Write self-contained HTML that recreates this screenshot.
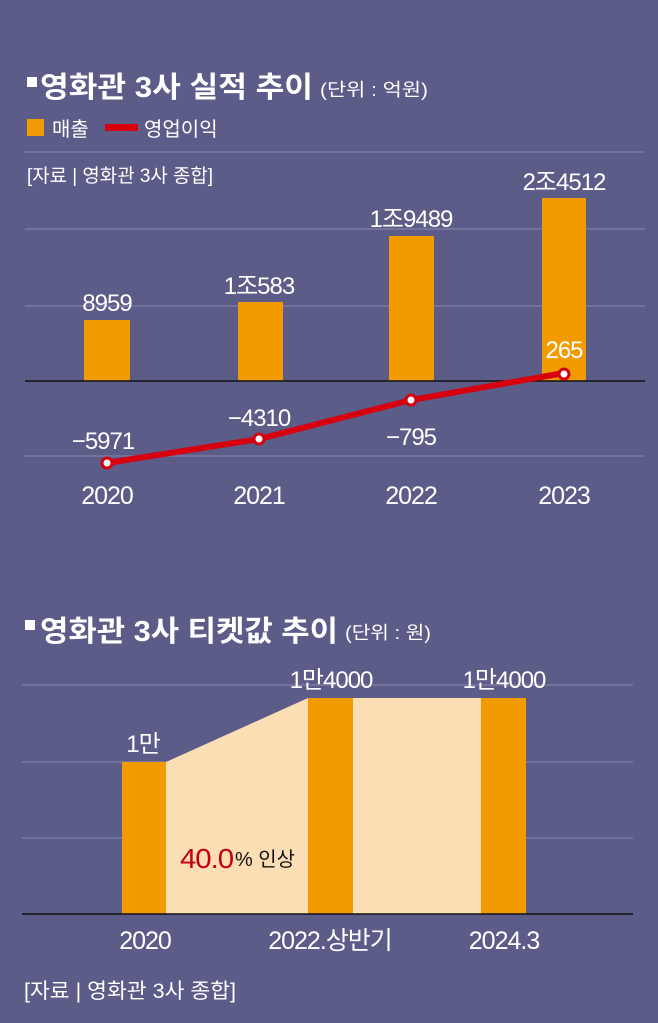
<!DOCTYPE html>
<html><head><meta charset="utf-8"><style>
body{margin:0;background:#5c5c88}
svg{display:block}
text{font-family:"Liberation Sans","Noto Sans CJK KR",sans-serif;fill:#fff}
</style></head><body>
<svg width="658" height="1023" viewBox="0 0 658 1023">
<rect width="658" height="1023" fill="#5c5c88"/>
<!-- Chart 1 -->
<rect x="27" y="77" width="10" height="10" fill="#fff"/>
<text x="40" y="97" font-size="29" font-weight="bold" textLength="273" lengthAdjust="spacingAndGlyphs">영화관 3사 실적 추이</text>
<text x="320" y="96" font-size="18" textLength="108" lengthAdjust="spacingAndGlyphs">(단위 : 억원)</text>
<rect x="27" y="119" width="17" height="17" fill="#f29b00"/>
<text x="52" y="136" font-size="20">매출</text>
<rect x="105" y="124" width="33" height="7" fill="#d7000f"/>
<text x="144" y="136" font-size="20">영업이익</text>
<g stroke="#7a7aa4" stroke-width="1.5">
<line x1="25" y1="152" x2="645" y2="152"/><line x1="25" y1="229" x2="645" y2="229"/>
<line x1="25" y1="306" x2="645" y2="306"/><line x1="25" y1="456" x2="645" y2="456"/>
</g>
<text x="27" y="182" font-size="19" textLength="186" lengthAdjust="spacingAndGlyphs">[자료 | 영화관 3사 종합]</text>
<g fill="#f29b00">
<rect x="84" y="320" width="46" height="61"/><rect x="238" y="302" width="45" height="79"/>
<rect x="389" y="236" width="45" height="145"/><rect x="542" y="198" width="44" height="183"/>
</g>
<line x1="25" y1="381" x2="645" y2="381" stroke="#111" stroke-width="1.5"/>
<polyline points="107,463 259,439 411,400 564,373" fill="none" stroke="#d7000f" stroke-width="6"/>
<g fill="#fff" stroke="#d7000f" stroke-width="3">
<circle cx="107" cy="463" r="5"/><circle cx="259" cy="439" r="5"/><circle cx="411" cy="400" r="5"/><circle cx="564" cy="374" r="5"/>
</g>
<g font-size="24" text-anchor="middle" letter-spacing="-1">
<text x="107" y="311">8959</text><text x="259" y="294">1조583</text>
<text x="411" y="227">1조9489</text><text x="564" y="190">2조4512</text>
<text x="564" y="358" fill="#ffe8b0">265</text>
<text x="103" y="449">−5971</text><text x="259" y="426">−4310</text><text x="411" y="445">−795</text>
</g>
<g font-size="25" text-anchor="middle" letter-spacing="-1">
<text x="107" y="504">2020</text><text x="259" y="504">2021</text><text x="411" y="504">2022</text><text x="564" y="504">2023</text>
</g>
<!-- Chart 2 -->
<rect x="25" y="620" width="10" height="10" fill="#fff"/>
<text x="40" y="641" font-size="29" font-weight="bold" textLength="298" lengthAdjust="spacingAndGlyphs">영화관 3사 티켓값 추이</text>
<text x="345" y="639" font-size="18" textLength="86" lengthAdjust="spacingAndGlyphs">(단위 : 원)</text>
<g stroke="#7a7aa4" stroke-width="1.5">
<line x1="22" y1="685" x2="633" y2="685"/><line x1="22" y1="762" x2="633" y2="762"/><line x1="22" y1="838" x2="633" y2="838"/>
</g>
<polygon points="166,762 308,698 481,698 481,914 166,914" fill="#fcdeb5"/>
<g fill="#f29b00">
<rect x="122" y="762" width="44" height="152"/><rect x="308" y="698" width="45" height="216"/><rect x="481" y="698" width="45" height="216"/>
</g>
<line x1="22" y1="914" x2="633" y2="914" stroke="#111" stroke-width="1.5"/>
<g font-size="24" text-anchor="middle" letter-spacing="-1">
<text x="143" y="752">1만</text><text x="331" y="688">1만4000</text><text x="504" y="688">1만4000</text>
</g>
<g font-size="25" text-anchor="middle" letter-spacing="-1">
<text x="145" y="949">2020</text><text x="330" y="949">2022.상반기</text><text x="504" y="949">2024.3</text>
</g>
<text x="180" y="868" font-size="28" letter-spacing="-1" style="fill:#c40010" textLength="53" lengthAdjust="spacingAndGlyphs">40.0</text>
<text x="235" y="866" font-size="20" style="fill:#111" textLength="60" lengthAdjust="spacingAndGlyphs">% 인상</text>
<text x="24" y="998" font-size="21" textLength="212" lengthAdjust="spacingAndGlyphs">[자료 | 영화관 3사 종합]</text>
</svg>
</body></html>
